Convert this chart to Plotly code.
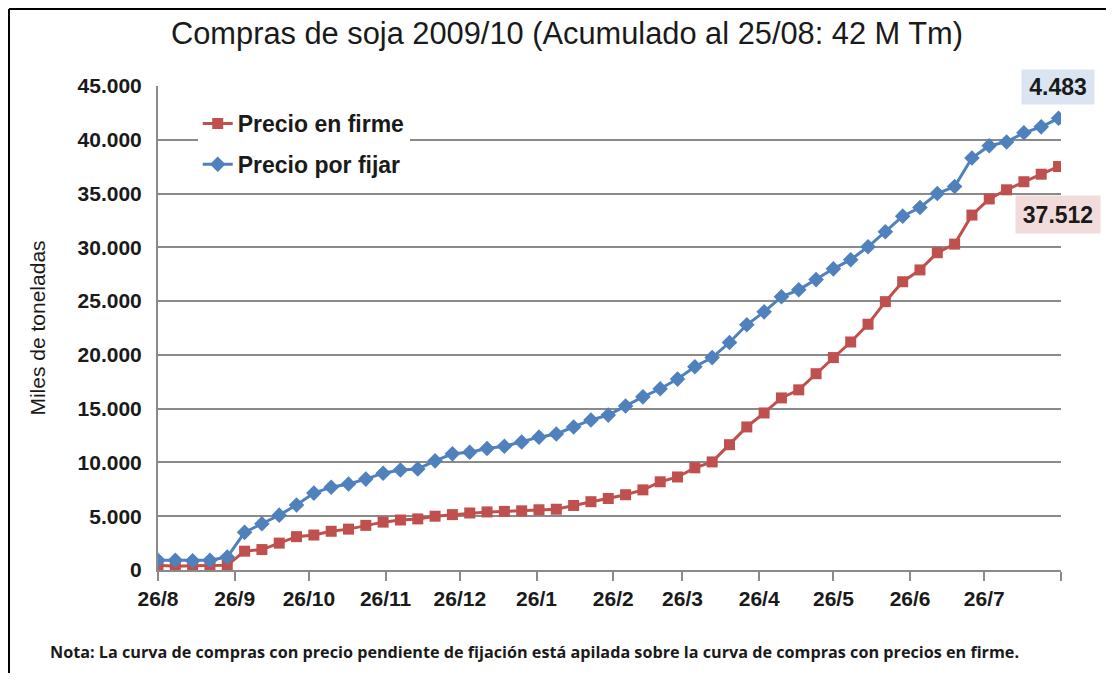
import plotly.graph_objects as go
import pandas as pd

# Weekly observation dates (26/08/2009 -> 25/08/2010)
fechas = pd.date_range("2009-08-26", periods=53, freq="7D")

# Precio en firme (miles de toneladas, acumulado)
precio_firme = [450, 350, 400, 400, 450, 1750, 1900, 2500, 3100, 3250,
                3600, 3800, 4150, 4450, 4650, 4750, 5000, 5150, 5300, 5400,
                5450, 5500, 5600, 5650, 6000, 6350, 6650, 7000, 7450, 8200,
                8650, 9500, 10050, 11650, 13300, 14600, 16000, 16750, 18250, 19750,
                21200, 22850, 24950, 26800, 27900, 29500, 30300, 33000, 34500, 35350,
                36100, 36800, 37512]

# Precio por fijar (apilado sobre precio en firme -> total acumulado)
precio_por_fijar_apilado = [900, 900, 850, 900, 1200, 3500, 4300, 5100, 6050, 7150,
                            7700, 8000, 8450, 9000, 9300, 9400, 10150, 10800, 10950, 11300,
                            11500, 11900, 12350, 12650, 13300, 13950, 14400, 15250, 16100, 16850,
                            17750, 18900, 19750, 21150, 22800, 24000, 25400, 26050, 27000, 28000,
                            28850, 30050, 31450, 32900, 33700, 35000, 35650, 38300, 39450, 39800,
                            40650, 41200, 41995]

tick_fechas = ["2009-08-26", "2009-09-26", "2009-10-26", "2009-11-26", "2009-12-26",
               "2010-01-26", "2010-02-26", "2010-03-26", "2010-04-26", "2010-05-26",
               "2010-06-26", "2010-07-26", "2010-08-26"]
tick_textos = ["26/8", "26/9", "26/10", "26/11", "26/12", "26/1", "26/2", "26/3",
               "26/4", "26/5", "26/6", "26/7", ""]

etiqueta_por_fijar = "4.483"
etiqueta_firme = "37.512"

NARROW = "Liberation Sans Narrow, Arial Narrow, Liberation Sans, Arial, sans-serif"
RED = "#c0504d"
BLUE = "#4f81bd"
GRID = "#8a8a8a"
TXT = "#1a1a1a"

# plot area: 903 x 484 px
L, T, PW, PH = 150, 78, 903, 484
W, H = 1098, 665

fig = go.Figure()
fig.add_trace(go.Scatter(
    x=fechas, y=precio_firme, name="Precio en firme", mode="lines+markers",
    legendgroup="a",
    line=dict(color=RED, width=3),
    marker=dict(symbol="square", size=11, color=RED),
))
fig.add_trace(go.Scatter(
    x=fechas, y=precio_por_fijar_apilado, name="Precio por fijar", mode="lines+markers",
    legendgroup="b",
    line=dict(color=BLUE, width=3),
    marker=dict(symbol="diamond", size=12, color=BLUE),
))

fig.update_layout(
    width=W, height=H,
    margin=dict(l=L, r=W - L - PW, t=T, b=H - T - PH),
    paper_bgcolor="white", plot_bgcolor="white",
    separators=",.",
    title=dict(text="Compras de soja 2009/10 (Acumulado al 25/08: 42 M Tm)",
               x=(567 - 8) / W, xanchor="center", y=1 - (33 - 8) / H, yanchor="middle",
               font=dict(family=NARROW, size=30.8, color=TXT)),
    legend=dict(x=0.044, y=0.967, xanchor="left", yanchor="top",
                bgcolor="white", borderwidth=0,
                font=dict(family=NARROW, size=23, color=TXT, weight="bold"),
                itemwidth=30, tracegroupgap=8),
    showlegend=True,
)

fig.update_xaxes(
    type="date", range=["2009-08-26", "2010-08-26"],
    tickvals=tick_fechas, ticktext=tick_textos,
    showgrid=False, showline=True, linecolor=GRID, linewidth=2,
    ticks="outside", ticklen=9, tickwidth=2, tickcolor=GRID,
    tickfont=dict(family=NARROW, size=21, color=TXT, weight="bold"),
    zeroline=False,
)
fig.update_yaxes(
    range=[0, 45000], tickvals=[0, 5000, 10000, 15000, 20000, 25000, 30000, 35000, 40000, 45000],
    tickformat=",d",
    showgrid=True, gridcolor=GRID, gridwidth=2,
    showline=True, linecolor=GRID, linewidth=2,
    zeroline=False, ticks="", ticklabelstandoff=10,
    tickfont=dict(family=NARROW, size=21, color=TXT, weight="bold"),
    title=dict(text="Miles de toneladas", standoff=26,
               font=dict(family=NARROW, size=21, color=TXT)),
)

fig.add_annotation(
    xref="paper", yref="paper", x=(1058 - 158) / PW, y=(570 - 87) / PH,
    text="<b>" + etiqueta_por_fijar + "</b>", showarrow=False,
    xanchor="center", yanchor="middle",
    bgcolor="#dbe5f1", width=66, height=28, borderpad=3,
    font=dict(family=NARROW, size=23, color=TXT),
)
fig.add_annotation(
    xref="paper", yref="paper", x=(1057.5 - 158) / PW, y=(570 - 214.5) / PH,
    text="<b>" + etiqueta_firme + "</b>", showarrow=False,
    xanchor="center", yanchor="middle",
    bgcolor="#f2dcdb", width=78, height=31, borderpad=3,
    font=dict(family=NARROW, size=23, color=TXT),
)
fig.add_annotation(
    xref="paper", yref="paper", x=(48 - 158) / PW, y=(570 - 652) / PH,
    xanchor="left", yanchor="middle", showarrow=False,
    text="<b>Nota: La curva de compras con precio pendiente de fijación está apilada sobre la curva de compras con precios en firme.</b>",
    font=dict(family="Open Sans, Lato, sans-serif", size=16.2, color=TXT),
)

# outer frame (left and top edges)
fx = (1 - L) / PW
fy = 1 + (T - 1) / PH
fig.add_shape(type="line", xref="paper", yref="paper",
              x0=fx, x1=fx, y0=fy, y1=-(H - T - PH + 20) / PH,
              line=dict(color="black", width=2))
fig.add_shape(type="line", xref="paper", yref="paper",
              x0=fx, x1=(W + 20 - L) / PW, y0=fy, y1=fy,
              line=dict(color="black", width=2))

fig.write_html("out.html")
